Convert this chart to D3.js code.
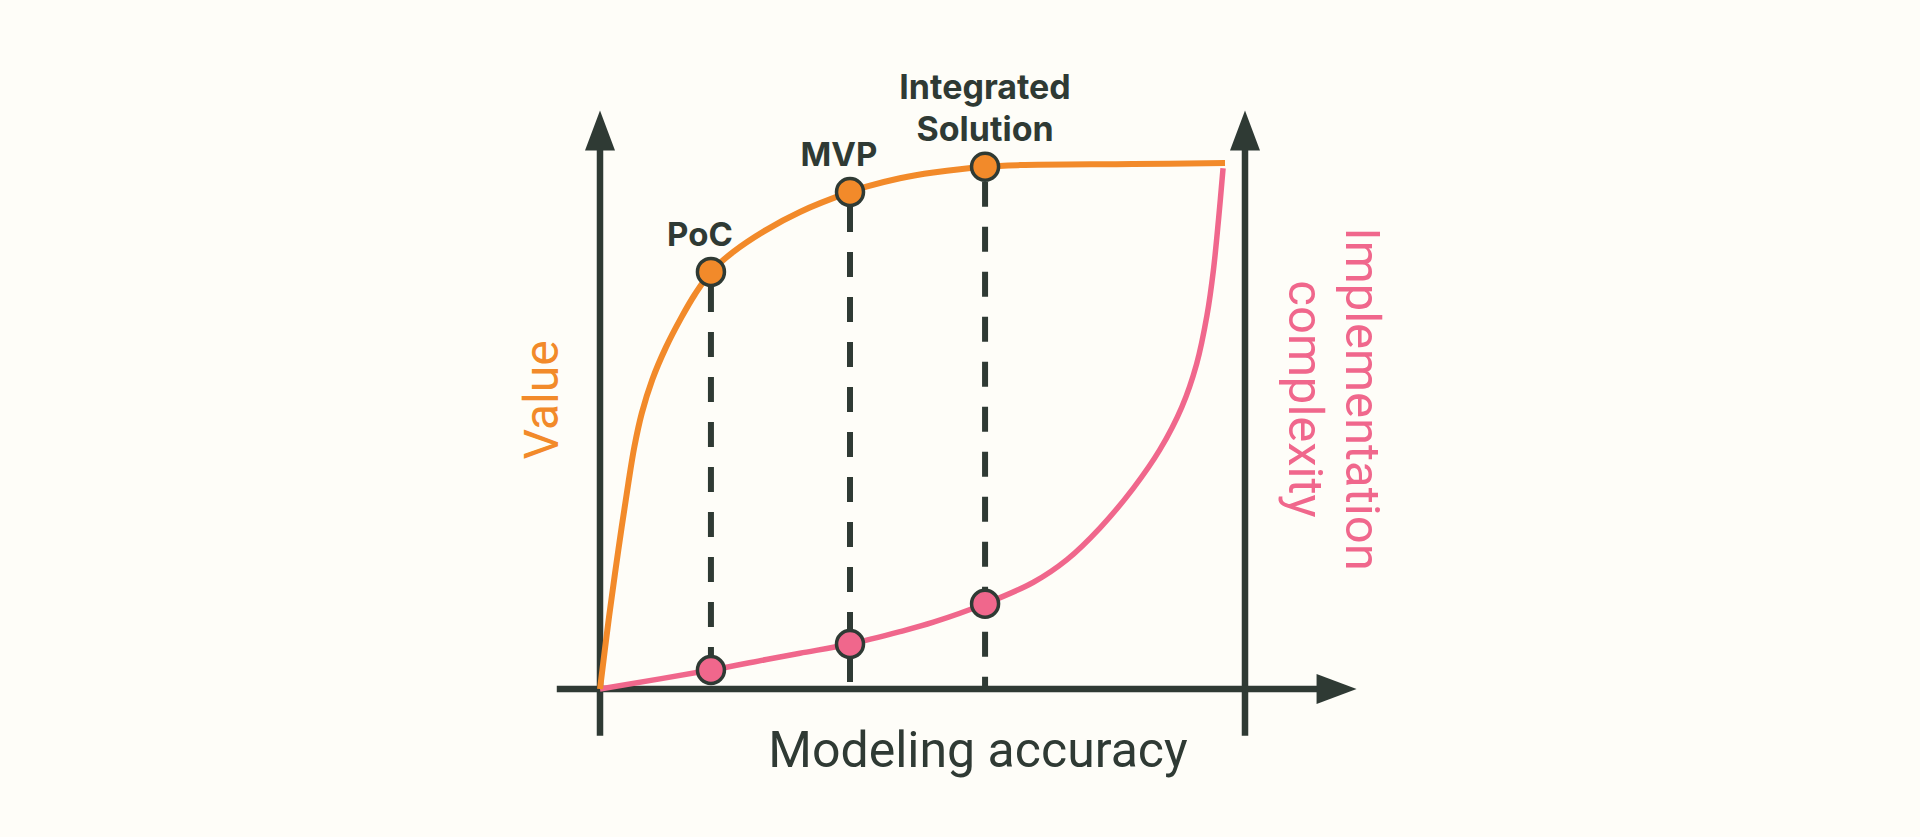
<!DOCTYPE html>
<html>
<head>
<meta charset="utf-8">
<script src="https://cdn.jsdelivr.net/npm/d3@7"></script>
<style>
  html, body { margin: 0; padding: 0; background: #fefdf8; }
  svg { display: block; }
  .stageText { font-family: Inter, "Noto Sans", sans-serif; font-weight: 700; font-size: 33px; fill: #2f3a34; }
  .axisText { font-family: Roboto, "Noto Sans", sans-serif; font-weight: 400; }
</style>
</head>
<body>
<div id="chart"></div>
<script>
var svgWidth = 1920;
var svgHeight = 837;

// value curve (orange)
var valueX = [0, 1.4, 2.84, 4.39, 5.32, 6.47, 8.1, 10.2, 12.6, 14.7, 17.2, 20.67, 25.8, 31.0, 38.76, 41.3, 46.5, 51.7, 59.7, 65.1, 82.6, 96.9];
var valueY = [0, 13.7, 26.4, 39.1, 46.0, 52.4, 58.8, 64.9, 70.6, 75.0, 79.3, 83.1, 87.3, 90.7, 94.5, 95.5, 97.1, 98.2, 99.3, 99.6, 99.8, 100];

// complexity curve (pink)
var complexityX = [0, 17.2, 25.8, 31.0, 38.76, 46.5, 51.7, 59.7, 67.2, 72.4, 77.5, 82.7, 86.8, 90.2, 92.5, 94.1, 95.1, 95.9, 96.6];
var complexityY = [0, 3.6, 5.6, 6.8, 8.56, 10.9, 12.7, 16.2, 20.3, 24.6, 30.6, 38.2, 45.5, 53.6, 61.8, 71.0, 79.6, 89.3, 99.0];

// stages along modeling accuracy
var stages = ["PoC", "MVP", "Integrated\nSolution"];
var stageX = [17.2, 38.76, 59.7];
var stageValue = [79.3, 94.5, 99.3];
var stageComplexity = [3.6, 8.56, 16.2];

var ink = "#2f3a34";
var orange = "#f28a2a";
var pink = "#f0678c";

var svg = d3.select("#chart")
  .append("svg")
  .attr("width", svgWidth)
  .attr("height", svgHeight);

var xScale = d3.scaleLinear().domain([0, 100]).range([600, 1245]);
var yScale = d3.scaleLinear().domain([0, 100]).range([689, 163]);

// axes with arrow heads
var axisGroup = svg.append("g");

function arrowUp(x, yTip) {
  return `M${x - 15},${yTip + 40} L${x},${yTip} L${x + 15},${yTip + 40} Z`;
}

[0, 100].forEach(function(v) {
  axisGroup.append("line")
    .attr("x1", xScale(v))
    .attr("x2", xScale(v))
    .attr("y1", yScale(-8.9))
    .attr("y2", yScale(110) + 38)
    .attr("stroke", ink)
    .attr("stroke-width", 6.5);
  axisGroup.append("path")
    .attr("d", arrowUp(xScale(v), yScale(110)))
    .attr("fill", ink);
});

var xTip = xScale(117.3);
axisGroup.append("line")
  .attr("x1", xScale(-6.7))
  .attr("x2", xTip - 38)
  .attr("y1", yScale(0))
  .attr("y2", yScale(0))
  .attr("stroke", ink)
  .attr("stroke-width", 6.5);
axisGroup.append("path")
  .attr("d", `M${xTip - 40},${yScale(0) - 15} L${xTip},${yScale(0)} L${xTip - 40},${yScale(0) + 15} Z`)
  .attr("fill", ink);

// dashed drop lines from the value points
svg.append("g").selectAll("line")
  .data(stageX)
  .enter()
  .append("line")
  .attr("x1", d => xScale(d))
  .attr("x2", d => xScale(d))
  .attr("y1", (d, i) => yScale(stageValue[i]) + 15)
  .attr("y2", yScale(0))
  .attr("stroke", ink)
  .attr("stroke-width", 6)
  .attr("stroke-dasharray", "25,20");

// curves
var line = d3.line()
  .x(d => xScale(d[0]))
  .y(d => yScale(d[1]))
  .curve(d3.curveCatmullRom.alpha(0.5));

svg.append("path")
  .datum(complexityX.map((x, i) => [x, complexityY[i]]))
  .attr("d", line)
  .attr("fill", "none")
  .attr("stroke", pink)
  .attr("stroke-width", 5.5);

svg.append("path")
  .datum(valueX.map((x, i) => [x, valueY[i]]))
  .attr("d", line)
  .attr("fill", "none")
  .attr("stroke", orange)
  .attr("stroke-width", 6);

// points
svg.append("g").selectAll("circle")
  .data(stageX)
  .enter()
  .append("circle")
  .attr("cx", d => xScale(d))
  .attr("cy", (d, i) => yScale(stageComplexity[i]))
  .attr("r", 13.5)
  .attr("fill", pink)
  .attr("stroke", ink)
  .attr("stroke-width", 3.5);

svg.append("g").selectAll("circle")
  .data(stageX)
  .enter()
  .append("circle")
  .attr("cx", d => xScale(d))
  .attr("cy", (d, i) => yScale(stageValue[i]))
  .attr("r", 13.5)
  .attr("fill", orange)
  .attr("stroke", ink)
  .attr("stroke-width", 3.5);

// stage labels
var labelShift = [-11, -11, 0];
stages.forEach(function(s, i) {
  var lines = s.split("\n");
  var t = svg.append("text")
    .attr("class", "stageText")
    .attr("text-anchor", "middle")
    .attr("x", xScale(stageX[i]) + labelShift[i])
    .attr("y", yScale(stageValue[i]) - 26 - (lines.length - 1) * 42);
  lines.forEach(function(l, j) {
    t.append("tspan")
      .attr("x", xScale(stageX[i]) + labelShift[i])
      .attr("dy", j === 0 ? 0 : 42)
      .attr("font-size", lines.length > 1 ? 34 : 33)
      .text(l);
  });
});

// axis titles
svg.append("text")
  .attr("class", "axisText")
  .attr("text-anchor", "middle")
  .attr("x", 978)
  .attr("y", yScale(0) + 78)
  .attr("font-size", 50)
  .attr("fill", ink)
  .text("Modeling accuracy");

svg.append("text")
  .attr("class", "axisText")
  .attr("text-anchor", "middle")
  .attr("transform", `translate(${xScale(0) - 42}, 400) rotate(-90)`)
  .attr("font-size", 48)
  .attr("fill", orange)
  .text("Value");

var implText = svg.append("text")
  .attr("class", "axisText")
  .attr("text-anchor", "middle")
  .attr("transform", `translate(${xScale(100) + 101}, 399) rotate(90)`)
  .attr("font-size", 49)
  .attr("fill", pink);
implText.append("tspan").attr("x", 0).attr("dy", 0).text("Implementation");
implText.append("tspan").attr("x", 0).attr("dy", 57).text("complexity");
</script>
</body>
</html>
